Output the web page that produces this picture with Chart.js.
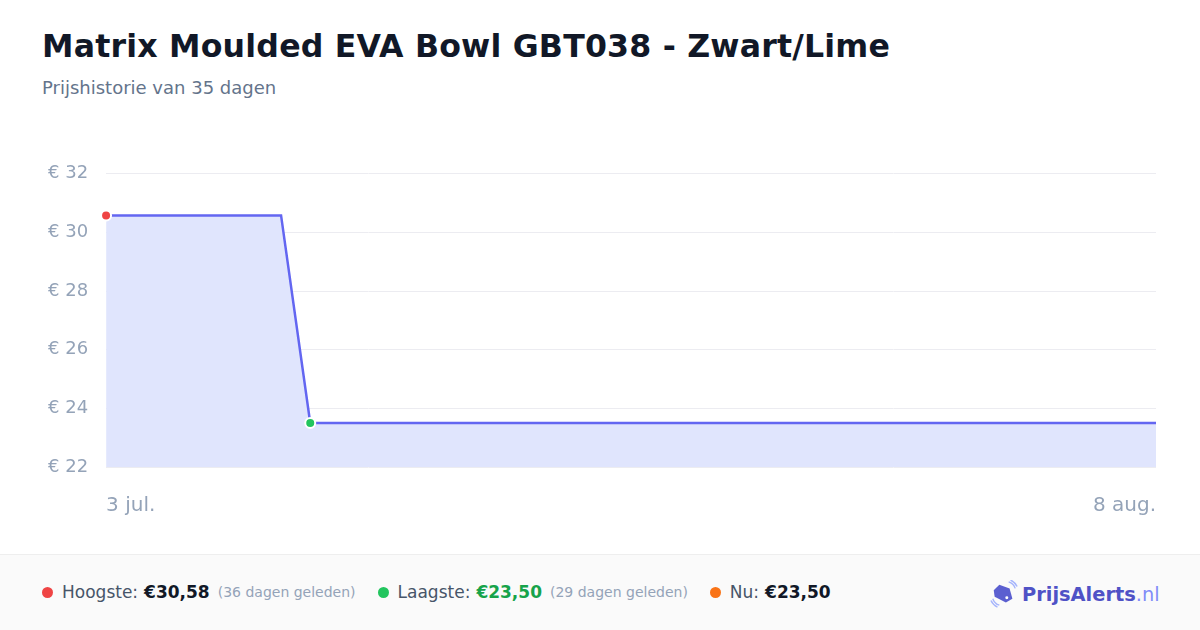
<!DOCTYPE html>
<html>
<head>
<meta charset="utf-8">
<script src="https://cdn.jsdelivr.net/npm/chart.js@4.4.0/dist/chart.umd.min.js"></script>
<style>
  html, body { margin: 0; padding: 0; }
  body { width: 1200px; height: 630px; background: #fff; font-family: "DejaVu Sans", sans-serif; position: relative; overflow: hidden; }
  h1 { position: absolute; left: 42px; top: 28px; margin: 0; font-size: 31.6px; font-weight: bold; color: #111827; letter-spacing: 0.2px; }
  .sub { position: absolute; left: 42px; top: 77px; font-size: 18px; color: #64748b; }
  .chart-wrap { position: absolute; left: 30px; top: 145px; width: 1145px; height: 392px; }
  .footer { position: absolute; left: 0; top: 554px; width: 1200px; height: 76px; background: #fafafa; border-top: 1px solid #eeeeee; }
  .stats { position: absolute; left: 42px; top: 27px; display: flex; align-items: center; font-size: 17px; color: #475569; white-space: nowrap; }
  .dot { width: 11px; height: 11px; border-radius: 50%; display: inline-block; margin-right: 9px; }
  .item { display: flex; align-items: center; margin-right: 22px; }
  .item b { color: #111827; margin-left: 6px; }
  .item small { font-size: 14px; color: #94a3b8; margin-left: 8px; }
  .logo { position: absolute; left: 990px; top: 25px; display: flex; align-items: center; font-size: 19.4px; font-weight: bold; color: #4f52c6; }
  .logo span { color: #818cf8; font-weight: normal; }
</style>
</head>
<body>
<h1>Matrix Moulded EVA Bowl GBT038 - Zwart/Lime</h1>
<div class="sub">Prijshistorie van 35 dagen</div>
<div class="chart-wrap"><canvas id="line-chart"></canvas></div>
<div class="footer">
  <div class="stats">
    <div class="item"><i class="dot" style="background:#ef4444"></i>Hoogste: <b>€30,58</b><small>(36 dagen geleden)</small></div>
    <div class="item"><i class="dot" style="background:#22c55e"></i>Laagste: <b style="color:#16a34a">€23,50</b><small>(29 dagen geleden)</small></div>
    <div class="item"><i class="dot" style="background:#f97316"></i>Nu: <b>€23,50</b></div>
  </div>
  <div class="logo">
    <svg width="28" height="28" viewBox="0 0 30 30" style="margin-right:4px">
      <path d="M3 20 A11 11 0 0 0 10 27" stroke="#a5b4fc" stroke-width="1.5" fill="none"/>
      <path d="M1 22 A14 14 0 0 0 8 29" stroke="#a5b4fc" stroke-width="1.5" fill="none"/>
      <path d="M20 2 A11 11 0 0 1 27 9" stroke="#a5b4fc" stroke-width="1.5" fill="none"/>
      <path d="M22 0 A14 14 0 0 1 29 7" stroke="#a5b4fc" stroke-width="1.5" fill="none"/>
      <path d="M10 5 L21 9 L24 20 L17 24 L5 18 L4 11 Z" fill="#5b5fd0"/>
      <circle cx="18" cy="19" r="1.6" fill="#fff"/>
    </svg>
    PrijsAlerts<span>.nl</span>
  </div>
</div>
<script>
var labels = [
  "3 jul.", "4 jul.", "5 jul.", "6 jul.", "7 jul.", "8 jul.", "9 jul.", "10 jul.",
  "11 jul.", "12 jul.", "13 jul.", "14 jul.", "15 jul.", "16 jul.", "17 jul.", "18 jul.",
  "19 jul.", "20 jul.", "21 jul.", "22 jul.", "23 jul.", "24 jul.", "25 jul.", "26 jul.",
  "27 jul.", "28 jul.", "29 jul.", "30 jul.", "31 jul.", "1 aug.", "2 aug.", "3 aug.",
  "4 aug.", "5 aug.", "6 aug.", "7 aug.", "8 aug."
];
var prices = [
  30.58, 30.58, 30.58, 30.58, 30.58, 30.58, 30.58, 23.50,
  23.50, 23.50, 23.50, 23.50, 23.50, 23.50, 23.50, 23.50,
  23.50, 23.50, 23.50, 23.50, 23.50, 23.50, 23.50, 23.50,
  23.50, 23.50, 23.50, 23.50, 23.50, 23.50, 23.50, 23.50,
  23.50, 23.50, 23.50, 23.50, 23.50
];
var yTicks = [22, 24, 26, 28, 30, 32];

var maxIdx = prices.indexOf(Math.max.apply(null, prices));
var minIdx = prices.indexOf(Math.min.apply(null, prices));

var config = {
  type: "line",
  data: {
    labels: labels,
    datasets: [
      {
        label: "Prijs",
        data: prices,
        borderColor: "#6366f1",
        borderWidth: 2.5,
        backgroundColor: "#e0e5fd",
        fill: "start",
        tension: 0,
        pointRadius: function (ctx) { return ctx.dataIndex === maxIdx || ctx.dataIndex === minIdx ? 5 : 0; },
        pointHoverRadius: 0,
        pointBackgroundColor: function (ctx) { return ctx.dataIndex === maxIdx ? "#ef4444" : "#22c55e"; },
        pointBorderColor: "#ffffff",
        pointBorderWidth: 2,
      },
    ],
  },
  options: {
    responsive: true,
    maintainAspectRatio: false,
    animation: false,
    layout: { padding: { top: 15, right: 0, bottom: 0, left: 0 } },
    plugins: { legend: { display: false }, tooltip: { enabled: false } },
    scales: {
      x: {
        grid: { display: false },
        border: { display: false },
        ticks: {
          autoSkip: false,
          maxRotation: 0,
          align: "inner",
          padding: 19,
          color: "#94a3b8",
          font: { family: "DejaVu Sans", size: 20 },
          callback: function (val, i) { return i === 0 || i === labels.length - 1 ? labels[i] : ""; },
        },
      },
      y: {
        min: yTicks[0],
        max: yTicks[yTicks.length - 1],
        afterBuildTicks: function (axis) { axis.ticks = yTicks.map(function (v) { return { value: v }; }); },
        grid: { color: "#ececf1", lineWidth: 1, drawTicks: false },
        border: { display: false },
        ticks: {
          padding: 18,
          color: "#94a3b8",
          font: { family: "DejaVu Sans", size: 18 },
          callback: function (v) { return "€ " + v; },
        },
      },
    },
  },
};
var ctx = document.getElementById("line-chart").getContext("2d");
window.myLine = new Chart(ctx, config);
</script>
</body>
</html>
